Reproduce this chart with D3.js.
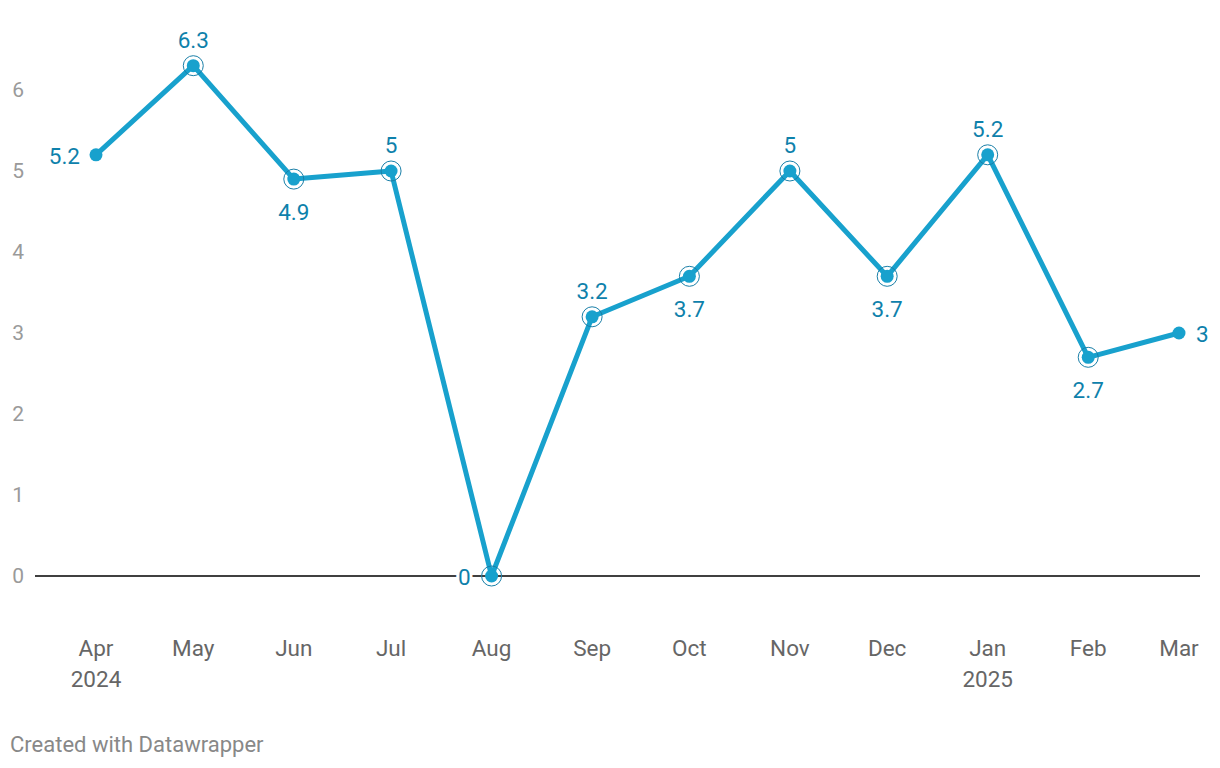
<!DOCTYPE html>
<html><head><meta charset="utf-8">
<script src="https://cdn.jsdelivr.net/npm/d3@7"></script>
<style>body{margin:0;background:#fff;font-family:Roboto,sans-serif;}</style>
</head><body>
<svg id="c" width="1220" height="768"></svg>
<script>
const months = ["2024-04","2024-05","2024-06","2024-07","2024-08","2024-09","2024-10","2024-11","2024-12","2025-01","2025-02","2025-03"];
const values = [5.2,6.3,4.9,5,0,3.2,3.7,5,3.7,5.2,2.7,3];
const labelPos = ["left","top","bottom","top","left","top","bottom","top","bottom","top","bottom","right"];
const monthLabels = ["Apr","May","Jun","Jul","Aug","Sep","Oct","Nov","Dec","Jan","Feb","Mar"];
const yearLabels = {"2024-04":"2024","2025-01":"2025"};
const yTicks = [0,1,2,3,4,5,6];

const parse = d3.timeParse("%Y-%m");
const data = months.map((m,i)=>({m, date:parse(m), v:values[i], pos:labelPos[i], lab:monthLabels[i]}));
const svg = d3.select("#c");
const x = d3.scaleTime().domain([data[0].date, data[data.length-1].date]).range([96,1179]);
const y = d3.scaleLinear().domain([0,6]).range([576,90]);

// y axis labels
svg.append("g").selectAll("text").data(yTicks).join("text")
  .attr("x",24).attr("y",d=>y(d)).attr("dy","0.35em").attr("text-anchor","end")
  .attr("fill","#9a9a9a").attr("font-size",21).text(d=>d);

// baseline
svg.append("line").attr("x1",35).attr("x2",1200).attr("y1",y(0)).attr("y2",y(0))
  .attr("stroke","#000").attr("stroke-width",1.5);

// x axis labels
const xg = svg.append("g");
xg.selectAll("text.m").data(data).join("text").attr("class","m")
  .attr("x",d=>x(d.date)).attr("y",656).attr("text-anchor","middle")
  .attr("fill","#666").attr("font-size",22.5).text(d=>d.lab);
xg.selectAll("text.yr").data(data.filter(d=>yearLabels[d.m])).join("text").attr("class","yr")
  .attr("x",d=>x(d.date)).attr("y",687).attr("text-anchor","middle")
  .attr("fill","#666").attr("font-size",22.5).text(d=>yearLabels[d.m]);

// line
svg.append("path").datum(data)
  .attr("d", d3.line().x(d=>x(d.date)).y(d=>y(d.v)))
  .attr("fill","none").attr("stroke","#18a1cd").attr("stroke-width",5).attr("stroke-linejoin","round");

// rings
svg.append("g").selectAll("circle").data(data.slice(1,-1)).join("circle")
  .attr("cx",d=>x(d.date)).attr("cy",d=>y(d.v)).attr("r",10)
  .attr("fill","none").attr("stroke","#1a7fa8").attr("stroke-width",1);
// dots
svg.append("g").selectAll("circle").data(data).join("circle")
  .attr("cx",d=>x(d.date)).attr("cy",d=>y(d.v)).attr("r",6.5).attr("fill","#18a1cd");

// value labels
svg.append("g").selectAll("text").data(data).join("text")
  .attr("x",d=>d.pos==="left"?x(d.date)-(d.v===0?21:16):d.pos==="right"?x(d.date)+17:x(d.date))
  .attr("y",d=>d.pos==="top"?y(d.v)-26:d.pos==="bottom"?y(d.v)+33:y(d.v)+1)
  .attr("dy","0.35em")
  .attr("text-anchor",d=>d.pos==="left"?"end":d.pos==="right"?"start":"middle")
  .attr("fill","#0e81ab").attr("font-size",22.5)
  .attr("stroke","#fff").attr("stroke-width",6).attr("paint-order","stroke")
  .text(d=>d.v);

svg.append("text").attr("x",10).attr("y",752).attr("fill","#888").attr("font-size",22)
  .text("Created with Datawrapper");
</script>
</body></html>
